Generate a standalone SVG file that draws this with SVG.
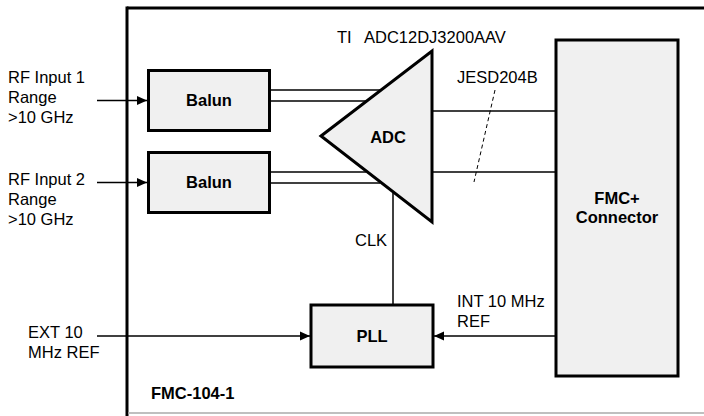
<svg xmlns="http://www.w3.org/2000/svg" width="704" height="416" viewBox="0 0 704 416">
<defs>
<marker id="arr" markerUnits="userSpaceOnUse" markerWidth="10" markerHeight="10" viewBox="0 0 10 10" refX="10" refY="5" orient="auto">
<path d="M0,0.5 L10,5 L0,9.5 Z" fill="#000"/>
</marker>
<style>
.box{fill:#f0f0f0;stroke:#000;stroke-width:3}
.ln{fill:none;stroke:#000;stroke-width:1.5}
.t{font-family:"Liberation Sans",Arial,sans-serif;font-size:16.5px;fill:#000}
.b{font-family:"Liberation Sans",Arial,sans-serif;font-size:16.5px;font-weight:bold;fill:#000}
</style>
</defs>
<rect width="704" height="416" fill="#fff"/>
<g id="frame">
<line x1="127" y1="8" x2="704" y2="8" stroke="#000" stroke-width="3"/>
<line x1="127" y1="6.5" x2="127" y2="416" stroke="#000" stroke-width="3"/>
<line x1="128" y1="413" x2="704" y2="413" stroke="#aaa" stroke-width="1.5"/>
<text class="b" x="151" y="399">FMC-104-1</text>
</g>
<g id="connectors">
<line class="ln" x1="97" y1="100.5" x2="147" y2="100.5" marker-end="url(#arr)"/>
<line class="ln" x1="97" y1="182.5" x2="147" y2="182.5" marker-end="url(#arr)"/>
<line class="ln" x1="97" y1="336" x2="310" y2="336" marker-end="url(#arr)"/>
<line class="ln" x1="556" y1="336" x2="434" y2="336" marker-end="url(#arr)"/>
<line class="ln" x1="270" y1="90" x2="380" y2="90"/>
<line class="ln" x1="270" y1="101" x2="366" y2="101"/>
<line class="ln" x1="270" y1="172" x2="366" y2="172"/>
<line class="ln" x1="270" y1="183" x2="380" y2="183"/>
<line class="ln" x1="432" y1="111" x2="556" y2="111"/>
<line class="ln" x1="432" y1="172" x2="556" y2="172"/>
<line x1="495" y1="90" x2="474" y2="182" stroke="#000" stroke-width="1" stroke-dasharray="4,3"/>
<line class="ln" x1="393" y1="192" x2="393" y2="305"/>
<text class="t" x="457" y="83">JESD204B</text>
<text class="t" x="355" y="246">CLK</text>
<text class="t" x="457" y="307">INT 10 MHz</text>
<text class="t" x="457" y="327">REF</text>
</g>
<g id="labels">
<text class="t" x="8" y="83">RF Input 1</text>
<text class="t" x="8" y="103">Range</text>
<text class="t" x="8" y="123">&gt;10 GHz</text>
<text class="t" x="8" y="185">RF Input 2</text>
<text class="t" x="8" y="205">Range</text>
<text class="t" x="8" y="225">&gt;10 GHz</text>
<text class="t" x="28" y="338">EXT 10</text>
<text class="t" x="28" y="358">MHz REF</text>
<text class="t" x="337" y="43">TI</text>
<text class="t" x="364" y="43">ADC12DJ3200AAV</text>
</g>
<g id="balun1">
<rect class="box" x="148.5" y="70.5" width="121" height="60"/>
<text class="b" x="209" y="106" text-anchor="middle">Balun</text>
</g>
<g id="balun2">
<rect class="box" x="148.5" y="152.5" width="121" height="60"/>
<text class="b" x="209" y="188" text-anchor="middle">Balun</text>
</g>
<g id="adc">
<polygon class="box" points="321,136 432,51 432,222" stroke-linejoin="miter"/>
<text class="b" x="388" y="143" text-anchor="middle">ADC</text>
</g>
<g id="fmc">
<rect class="box" x="556" y="40" width="122" height="336"/>
<text class="b" x="617" y="204" text-anchor="middle">FMC+</text>
<text class="b" x="617" y="223" text-anchor="middle">Connector</text>
</g>
<g id="pll">
<rect class="box" x="311" y="305" width="122" height="62"/>
<text class="b" x="372" y="342" text-anchor="middle">PLL</text>
</g>
</svg>
